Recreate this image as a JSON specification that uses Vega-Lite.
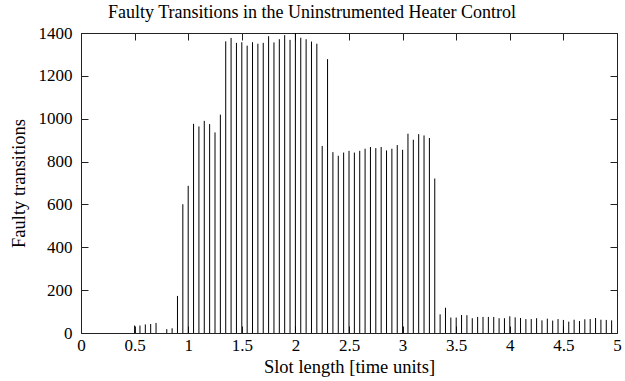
{
  "$schema": "https://vega.github.io/schema/vega-lite/v6.json",
  "width": 536,
  "height": 300,
  "autosize": "none",
  "padding": {"left": 81, "top": 33, "right": 8, "bottom": 48},
  "title": {"text": "Faulty Transitions in the Uninstrumented Heater Control", "font": "Liberation Serif", "fontSize": 18, "fontWeight": "normal", "color": "black", "offset": 2, "dx": -37},
  "config": {
    "view": {"stroke": null},
    "axis": {"labelFont": "Liberation Serif", "titleFont": "Liberation Serif", "labelFontSize": 17, "titleFontSize": 18.5, "titleFontWeight": "normal", "labelColor": "black", "titleColor": "black", "domainColor": "#222", "tickColor": "#222", "grid": false}
  },
  "data": {"values": [
    {"x": 0.5, "v": 35}, {"x": 0.55, "v": 35}, {"x": 0.6, "v": 40}, {"x": 0.65, "v": 42}, {"x": 0.7, "v": 47},
    {"x": 0.8, "v": 18}, {"x": 0.85, "v": 22}, {"x": 0.9, "v": 173}, {"x": 0.95, "v": 601},
    {"x": 1.0, "v": 687}, {"x": 1.05, "v": 976}, {"x": 1.1, "v": 964}, {"x": 1.15, "v": 990}, {"x": 1.2, "v": 975},
    {"x": 1.25, "v": 936}, {"x": 1.3, "v": 1019}, {"x": 1.35, "v": 1361}, {"x": 1.4, "v": 1377}, {"x": 1.45, "v": 1354},
    {"x": 1.5, "v": 1357}, {"x": 1.55, "v": 1341}, {"x": 1.6, "v": 1357}, {"x": 1.65, "v": 1350}, {"x": 1.7, "v": 1354},
    {"x": 1.75, "v": 1385}, {"x": 1.8, "v": 1356}, {"x": 1.85, "v": 1371}, {"x": 1.9, "v": 1390}, {"x": 1.95, "v": 1368},
    {"x": 2.0, "v": 1400}, {"x": 2.05, "v": 1378}, {"x": 2.1, "v": 1371}, {"x": 2.15, "v": 1360}, {"x": 2.2, "v": 1350},
    {"x": 2.25, "v": 873}, {"x": 2.3, "v": 1278}, {"x": 2.35, "v": 844}, {"x": 2.4, "v": 827}, {"x": 2.45, "v": 842},
    {"x": 2.5, "v": 850}, {"x": 2.55, "v": 842}, {"x": 2.6, "v": 850}, {"x": 2.65, "v": 860}, {"x": 2.7, "v": 868},
    {"x": 2.75, "v": 863}, {"x": 2.8, "v": 868}, {"x": 2.85, "v": 852}, {"x": 2.9, "v": 860}, {"x": 2.95, "v": 877},
    {"x": 3.0, "v": 855}, {"x": 3.05, "v": 930}, {"x": 3.1, "v": 902}, {"x": 3.15, "v": 928}, {"x": 3.2, "v": 922},
    {"x": 3.25, "v": 910}, {"x": 3.3, "v": 721}, {"x": 3.35, "v": 87}, {"x": 3.4, "v": 118}, {"x": 3.45, "v": 72},
    {"x": 3.5, "v": 72}, {"x": 3.55, "v": 84}, {"x": 3.6, "v": 83}, {"x": 3.65, "v": 69}, {"x": 3.7, "v": 75},
    {"x": 3.75, "v": 75}, {"x": 3.8, "v": 75}, {"x": 3.85, "v": 75}, {"x": 3.9, "v": 69}, {"x": 3.95, "v": 69},
    {"x": 4.0, "v": 78}, {"x": 4.05, "v": 73}, {"x": 4.1, "v": 70}, {"x": 4.15, "v": 65}, {"x": 4.2, "v": 65},
    {"x": 4.25, "v": 69}, {"x": 4.3, "v": 59}, {"x": 4.35, "v": 67}, {"x": 4.4, "v": 58}, {"x": 4.45, "v": 65},
    {"x": 4.5, "v": 61}, {"x": 4.55, "v": 53}, {"x": 4.6, "v": 62}, {"x": 4.65, "v": 56}, {"x": 4.7, "v": 64},
    {"x": 4.75, "v": 65}, {"x": 4.8, "v": 70}, {"x": 4.85, "v": 62}, {"x": 4.9, "v": 61}, {"x": 4.95, "v": 59}
  ]},
  "layer": [
    {
      "mark": {"type": "rule", "color": "black", "strokeWidth": 1, "clip": true},
      "encoding": {
        "x": {"field": "x", "type": "quantitative", "scale": {"domain": [0, 5], "nice": false, "zero": false},
          "axis": {"orient": "bottom", "values": [0, 0.5, 1, 1.5, 2, 2.5, 3, 3.5, 4, 4.5, 5], "format": "~g", "tickSize": -7, "labelPadding": 11, "labelFlush": false, "title": "Slot length [time units]", "titleY": 39, "titleBaseline": "alphabetic"}},
        "y": {"field": "v", "type": "quantitative", "scale": {"domain": [0, 1400], "nice": false},
          "axis": {"orient": "left", "values": [0, 200, 400, 600, 800, 1000, 1200, 1400], "format": "d", "tickSize": -7, "labelPadding": 16, "labelFlush": false, "title": "Faulty transitions", "titleX": -63, "titleY": 150, "titleBaseline": "middle", "titleAngle": -90}},
        "y2": {"datum": 0}
      }
    },
    {
      "mark": {"type": "point", "opacity": 0},
      "encoding": {
        "x": {"field": "x", "type": "quantitative", "axis": {"orient": "top", "values": [0, 0.5, 1, 1.5, 2, 2.5, 3, 3.5, 4, 4.5, 5], "tickSize": -7, "labels": false, "title": null}},
        "y": {"field": "v", "type": "quantitative", "axis": {"orient": "right", "values": [0, 200, 400, 600, 800, 1000, 1200, 1400], "tickSize": -7, "labels": false, "title": null}}
      }
    }
  ],
  "resolve": {"axis": {"x": "independent", "y": "independent"}}
}
